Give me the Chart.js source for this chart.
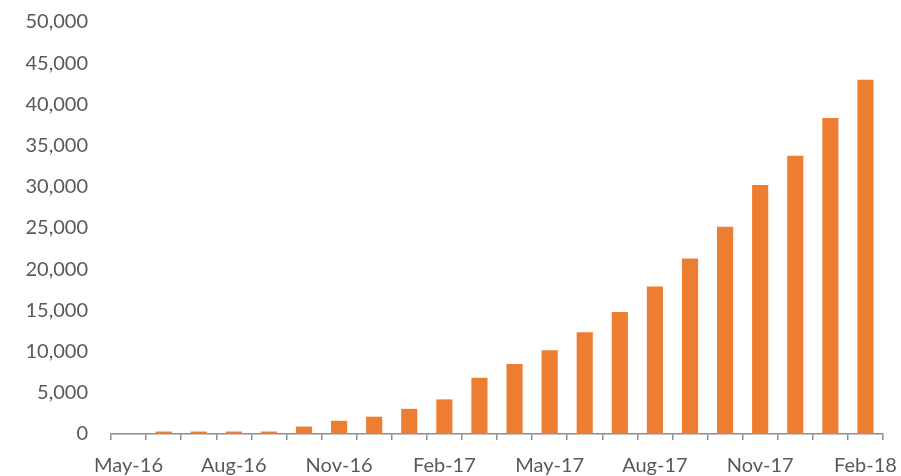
<!DOCTYPE html>
<html>
<head>
<meta charset="utf-8">
<script src="https://cdn.jsdelivr.net/npm/chart.js@4/dist/chart.umd.min.js"></script>
<style>
  html, body { margin: 0; padding: 0; background: #fff; }
  #wrap { width: 901px; height: 476px; position: relative; }
</style>
</head>
<body>
<div id="wrap"><canvas id="chart"></canvas></div>
<script>
// monthly values, May-16 .. Feb-18
const months = ['May-16', 'Jun-16', 'Jul-16', 'Aug-16', 'Sep-16', 'Oct-16', 'Nov-16', 'Dec-16',
                'Jan-17', 'Feb-17', 'Mar-17', 'Apr-17', 'May-17', 'Jun-17', 'Jul-17', 'Aug-17',
                'Sep-17', 'Oct-17', 'Nov-17', 'Dec-17', 'Jan-18', 'Feb-18'];
const values = [0, 300, 300, 300, 300, 900, 1600, 2100,
                3050, 4200, 6820, 8510, 10170, 12350, 14820, 17900,
                21300, 25150, 30230, 33780, 38340, 42980];
const yMax = 50000;
const yStep = 5000;

const grey = '#595959';
const axisGrey = '#8c8c8c';

const ctx = document.getElementById('chart').getContext('2d');
new Chart(ctx, {
    type: 'bar',
    data: {
        labels: months,
        datasets: [{
            data: values,
            backgroundColor: '#ed7d31',
            categoryPercentage: 1,
            barPercentage: 0.46
        }]
    },
    options: {
        responsive: true,
        maintainAspectRatio: false,
        animation: false,
        layout: { padding: { top: 22, right: 18, bottom: 0, left: 0 } },
        plugins: {
            legend: { display: false },
            tooltip: { enabled: false }
        },
        scales: {
            x: {
                grid: {
                    display: true,
                    drawOnChartArea: false,
                    drawTicks: true,
                    tickLength: 6,
                    color: axisGrey,
                    lineWidth: 1.5
                },
                border: { display: true, color: axisGrey, width: 1.5 },
                ticks: {
                    autoSkip: false,
                    maxRotation: 0,
                    color: grey,
                    font: { family: 'Lato', size: 20 },
                    padding: 14,
                    callback: (v, i) => (i % 3 === 0 ? months[i] : '')
                },
                afterFit: (scale) => {
                    scale.height = 42;
                    scale.paddingLeft = 0;
                    scale.paddingRight = 0;
                }
            },
            y: {
                min: 0,
                max: yMax,
                grid: { display: false },
                border: { display: false },
                ticks: {
                    stepSize: yStep,
                    color: grey,
                    font: { family: 'Lato', size: 20 },
                    padding: 15
                },
                afterFit: (scale) => {
                    scale.width = 111;
                    scale.paddingTop = 0;
                    scale.paddingBottom = 0;
                }
            }
        }
    }
});
</script>
</body>
</html>
